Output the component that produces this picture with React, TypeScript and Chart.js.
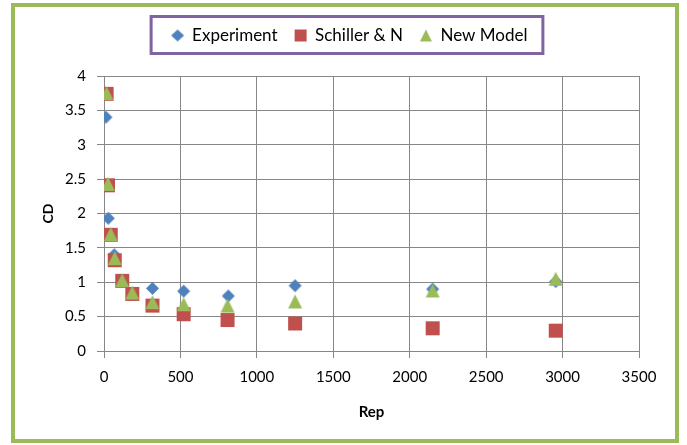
import React, { useEffect, useRef } from 'react';
import { Chart, registerables } from 'chart.js';

Chart.register(...registerables);

// ---- data ----
const seriesNames = ['Experiment', 'Schiller & N', 'New Model'];

const expRep = [13, 28, 67, 317, 521, 813, 1250, 2150, 2955];
const expCd = [3.4, 1.93, 1.4, 0.91, 0.87, 0.8, 0.95, 0.9, 1.01];

const schRep = [17, 26, 44, 70, 119, 185, 317, 521, 808, 1250, 2150, 2955];
const schCd = [3.74, 2.41, 1.69, 1.32, 1.02, 0.83, 0.66, 0.535, 0.45, 0.4, 0.33, 0.296];

const newRep = [17, 26, 44, 70, 119, 185, 317, 521, 808, 1250, 2150, 2955];
const newCd = [3.75, 2.43, 1.7, 1.35, 1.03, 0.85, 0.71, 0.68, 0.66, 0.72, 0.88, 1.05];

const xMin = 0;
const xMax = 3500;
const xStep = 500;
const yMin = 0;
const yMax = 4;
const yStep = 0.5;

const xTitle = 'Rep';
const yTitle = 'CD';

// ---- styles ----
const BLUE = '#4F81BD';
const RED = '#C0504D';
const GREEN = '#9BBB59';
const PURPLE = '#8064A2';
const GRID = '#878787';
const FONT = 'Lato';

type Shape = 'diamond' | 'square' | 'triangle';

function makeMarker(shape: Shape, color: string, w: number, h: number): HTMLCanvasElement {
  const c = document.createElement('canvas');
  c.width = w + 2;
  c.height = h + 2;
  const ctx = c.getContext('2d') as CanvasRenderingContext2D;
  const x0 = 1;
  const y0 = 1;
  const cx = x0 + w / 2;
  const cy = y0 + h / 2;
  ctx.fillStyle = color;
  ctx.beginPath();
  if (shape === 'diamond') {
    ctx.moveTo(cx, y0);
    ctx.lineTo(x0 + w, cy);
    ctx.lineTo(cx, y0 + h);
    ctx.lineTo(x0, cy);
  } else if (shape === 'square') {
    ctx.rect(x0, y0, w, h);
  } else {
    ctx.moveTo(cx, y0);
    ctx.lineTo(x0 + w, y0 + h);
    ctx.lineTo(x0, y0 + h);
  }
  ctx.closePath();
  ctx.fill();
  return c;
}

const toPoints = (xs: number[], ys: number[]) => xs.map((x, i) => ({ x, y: ys[i] }));

export default function App() {
  const canvasRef = useRef<HTMLCanvasElement | null>(null);

  useEffect(() => {
    const canvas = canvasRef.current;
    if (!canvas) return;

    const dataMarkers = [
      makeMarker('diamond', BLUE, 13, 13),
      makeMarker('square', RED, 14, 14),
      makeMarker('triangle', GREEN, 14, 14),
    ];
    const legendMarkers = [
      makeMarker('diamond', BLUE, 13, 12),
      makeMarker('square', RED, 12, 12),
      makeMarker('triangle', GREEN, 12, 12),
    ];

    const framePlugin = {
      id: 'frameDeco',
      beforeInit(chart: any) {
        const legend = chart.legend;
        if (legend) {
          const orig = legend.fit;
          legend.fit = function () {
            orig.call(this);
            this.height = 66;
          };
        }
      },
      afterLayout(chart: any) {
        const lg = chart.legend;
        if (lg) {
          lg.left += 12;
          lg.right += 12;
        }
      },
      afterDraw(chart: any) {
        const ctx = chart.ctx as CanvasRenderingContext2D;
        ctx.save();
        // outer green frame
        ctx.strokeStyle = GREEN;
        ctx.lineWidth = 4;
        ctx.strokeRect(13, 5, 664, 436);
        // purple legend box
        const hb = chart.legend?.legendHitBoxes || [];
        if (hb.length) {
          const left = Math.min(...hb.map((h: any) => h.left));
          const right = Math.max(...hb.map((h: any) => h.left + h.width));
          const cy = hb[0].top + hb[0].height / 2;
          ctx.strokeStyle = PURPLE;
          ctx.lineWidth = 3;
          ctx.strokeRect(left - 20.5, cy - 19, right - left + 36, 37);
        }
        ctx.restore();
      },
    };

    const chart = new Chart(canvas, {
      type: 'scatter',
      data: {
        datasets: [
          {
            label: seriesNames[0],
            data: toPoints(expRep, expCd),
            pointStyle: dataMarkers[0] as any,
            backgroundColor: BLUE,
            borderColor: BLUE,
            order: 3,
          },
          {
            label: seriesNames[1],
            data: toPoints(schRep, schCd),
            pointStyle: dataMarkers[1] as any,
            backgroundColor: RED,
            borderColor: RED,
            order: 2,
          },
          {
            label: seriesNames[2],
            data: toPoints(newRep, newCd),
            pointStyle: dataMarkers[2] as any,
            backgroundColor: GREEN,
            borderColor: GREEN,
            order: 1,
          },
        ],
      },
      options: {
        animation: false,
        responsive: false,
        devicePixelRatio: 1,
        layout: { padding: { left: 36, right: 48, top: 10, bottom: 20 } },
        plugins: {
          tooltip: { enabled: false },
          legend: {
            display: true,
            position: 'top',
            labels: {
              usePointStyle: true,
              boxWidth: 12,
              boxHeight: 12,
              padding: 17,
              color: '#000',
              font: { family: FONT, size: 17 },
              sort: (a: any, b: any) => a.datasetIndex - b.datasetIndex,
              generateLabels: (ch: any) =>
                (Chart.defaults.plugins.legend.labels.generateLabels as any)(ch).map((l: any) => ({
                  ...l,
                  pointStyle: legendMarkers[l.datasetIndex],
                })),
            },
          },
        },
        scales: {
          x: {
            type: 'linear',
            min: xMin,
            max: xMax,
            ticks: {
              stepSize: xStep,
              callback: (v: any) => String(v),
              color: '#000',
              font: { family: FONT, size: 15 },
              padding: 10,
            },
            grid: { color: GRID, lineWidth: 1, tickLength: 7, tickColor: GRID },
            border: { color: GRID, width: 1 },
            title: {
              display: true,
              text: xTitle,
              color: '#000',
              font: { family: FONT, size: 15, weight: 'bold' },
              padding: 4,
            },
            afterFit: (s: any) => {
              s.height = 74;
            },
          },
          y: {
            type: 'linear',
            min: yMin,
            max: yMax,
            ticks: {
              stepSize: yStep,
              callback: (v: any) => String(v),
              color: '#000',
              font: { family: FONT, size: 15 },
              padding: 11,
            },
            grid: { color: GRID, lineWidth: 1, tickLength: 7, tickColor: GRID },
            border: { color: GRID, width: 1 },
            title: {
              display: true,
              text: yTitle,
              color: '#000',
              font: { family: FONT, size: 14, weight: 'bold' },
              padding: 4,
            },
            afterFit: (s: any) => {
              s.width = 68;
            },
          },
        },
      } as any,
      plugins: [framePlugin as any],
    });

    return () => {
      chart.destroy();
    };
  }, []);

  return (
    <div style={{ position: 'absolute', left: 0, top: 0, width: 687, height: 445, background: '#fff' }}>
      <canvas ref={canvasRef} width={687} height={445} style={{ display: 'block', width: 687, height: 445 }} />
    </div>
  );
}
